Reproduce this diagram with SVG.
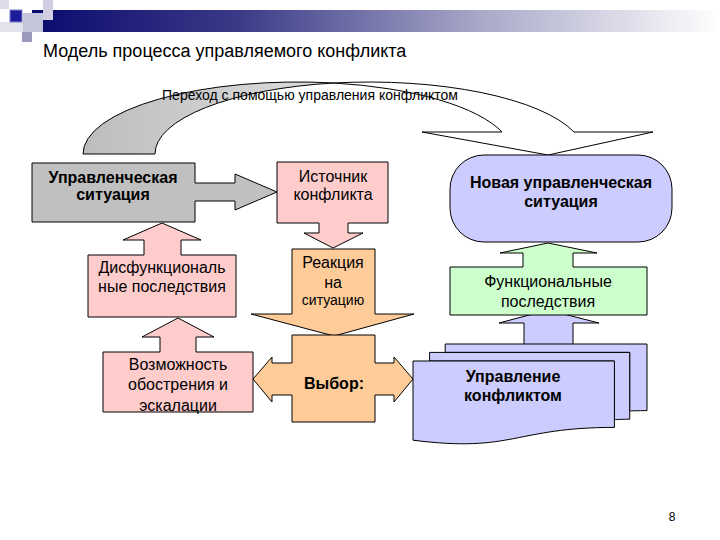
<svg xmlns="http://www.w3.org/2000/svg" width="720" height="540" viewBox="0 0 720 540">
<defs>
  <linearGradient id="bar" x1="0" y1="0" x2="1" y2="0">
    <stop offset="0" stop-color="#0a0a6e"/>
    <stop offset="0.3" stop-color="#3a3a88"/>
    <stop offset="0.65" stop-color="#a8a8c8"/>
    <stop offset="1" stop-color="#ffffff"/>
  </linearGradient>
  <linearGradient id="backside" gradientUnits="userSpaceOnUse" x1="83" y1="0" x2="334" y2="0">
    <stop offset="0" stop-color="#bdbdbd"/>
    <stop offset="1" stop-color="#dedede"/>
  </linearGradient>
</defs>
<style>
  .s{stroke:#000;stroke-width:1;stroke-linejoin:miter}
  .gray{fill:#c0c0c0}
  .pink{fill:#ffcccc}
  .orange{fill:#ffcc99}
  .lav{fill:#ccccff}
  .green{fill:#ccffcc}
  text{font-family:"Liberation Sans",Arial,sans-serif;fill:#000}
  .t{font-size:16px;text-anchor:middle}
  .b{font-weight:bold}
</style>
<rect x="0" y="0" width="720" height="540" fill="#ffffff"/>

<g id="decoration">
  <rect x="32" y="10" width="688" height="22" fill="url(#bar)"/>
  <rect x="0" y="0" width="9" height="9" fill="#dcdcea"/>
  <rect x="0" y="22" width="33" height="10" fill="#e2e2ec"/>
  <rect x="23" y="13" width="20" height="19" fill="#c4c4da"/>
  <rect x="43" y="0" width="10" height="20" fill="#d0d0e2"/>
  <rect x="22" y="32" width="10" height="10" fill="#9a9abe"/>
  <rect x="10" y="10" width="12" height="12" fill="#1c1c9c" stroke="#8080c0" stroke-width="1"/>
</g>

<text id="title" x="43" y="57" font-size="18">Модель процесса управляемого конфликта</text>

<g id="connectors">
  <path id="curved-back" class="s" fill="url(#backside)" d="M83,154 A215,72 0 0 1 334,83 A215,72 0 0 0 155,154 Z"/>
  <path id="curved-front" class="s" fill="#ffffff" d="M334,83 A215,72 0 0 1 574,132 L653,132 L548,155 L422,132 L502,132 A215,72 0 0 0 334,83 Z"/>
  <text x="162" y="100" font-size="14" textLength="296" lengthAdjust="spacingAndGlyphs">Переход с помощью управления конфликтом</text>
  <path id="up-arrow-management" class="s lav" d="M524,346 V323 H499 L548,310 L599,323 H573 V346 Z"/>
</g>

<g id="node-management-situation">
  <path class="s gray" d="M32,163 H195 V183 H235 V174 L277,192 L235,210 V201 H195 V222 H32 Z"/>
  <text class="t b" x="113" y="183">Управленческая</text>
  <text class="t b" x="113" y="200">ситуация</text>
</g>

<g id="node-source">
  <path class="s pink" d="M277,162 H388 V223 H348 V233 H363 L333,248 L304,233 H319 V223 H277 Z"/>
  <text class="t" x="333" y="182">Источник</text>
  <text class="t" x="333" y="200">конфликта</text>
</g>

<g id="node-reaction">
  <path class="s orange" d="M292,249 H375 V314 H414 L334,336 L251,314 H292 Z"/>
  <text class="t" x="333" y="268">Реакция</text>
  <text class="t" x="333" y="288">на</text>
  <text x="333" y="305" font-size="14" text-anchor="middle">ситуацию</text>
</g>

<g id="node-choice">
  <path class="s orange" d="M292,335 H375 V363 H394 V357 L413,379 L394,402 V395 H375 V422 H292 V395 H272 V402 L253,379 L272,357 V363 H292 Z"/>
  <text class="t b" x="334" y="389">Выбор:</text>
</g>

<g id="node-dysfunctional">
  <path class="s pink" d="M88,255 V317 H236 V255 H181 V240 H201 L162,223 L123,240 H144 V255 Z"/>
  <text class="t" x="162" y="273">Дисфункциональ</text>
  <text class="t" x="162" y="292">ные последствия</text>
</g>

<g id="node-escalation">
  <path class="s pink" d="M103,352 V412 H253 V352 H196 V337 H214 L178,318 L142,337 H160 V352 Z"/>
  <text class="t" x="178" y="370">Возможность</text>
  <text class="t" x="178" y="390">обострения и</text>
  <text class="t" x="178" y="411">эскалации</text>
</g>

<g id="node-new-situation">
  <rect class="s lav" x="450" y="155" width="222" height="87" rx="34" ry="34"/>
  <text class="t b" x="561" y="188">Новая управленческая</text>
  <text class="t b" x="561" y="207">ситуация</text>
</g>

<g id="node-functional">
  <path class="s green" d="M450,267 V315 H647 V267 H573 V253 H597 L548,243 L500,253 H523 V267 Z"/>
  <text class="t" x="548" y="287">Функциональные</text>
  <text class="t" x="548" y="307">последствия</text>
</g>

<g id="node-conflict-management">
  <path class="s lav" d="M445.2,352.4 V344 H647 V410.6 C638.3,410.6 629.7,411 629.7,411 V352.4 Z"/>
  <path class="s lav" d="M429.6,361 V352.4 H629.7 V419.2 C622.1,419.2 614.4,419.7 614.4,419.7 V361 Z"/>
  <path class="s lav" d="M413,440.2 C513.7,453 513.7,427.4 614.4,427.4 V361 H413 Z"/>
  <text class="t b" x="513" y="382">Управление</text>
  <text class="t b" x="513" y="401">конфликтом</text>
</g>

<text id="page-number" x="672" y="521" font-size="12" text-anchor="middle">8</text>
</svg>
